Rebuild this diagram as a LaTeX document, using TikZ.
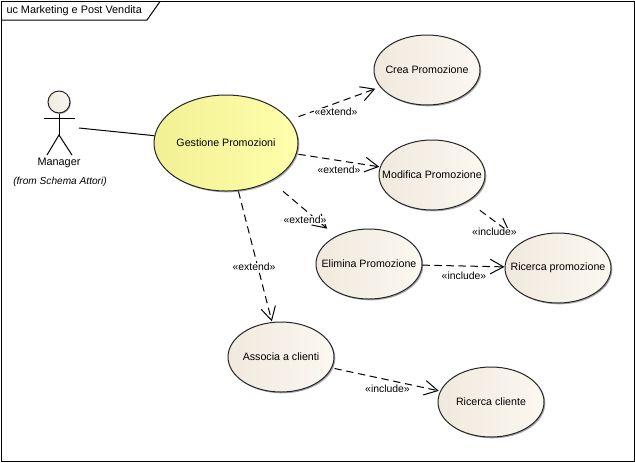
\documentclass[tikz,border=0pt]{standalone}
\usepackage{fontspec}
\setmainfont{Liberation Sans}
\usetikzlibrary{positioning,arrows.meta,shapes.geometric,shadows}
\definecolor{caseleft}{HTML}{F0E9DD}
\definecolor{caseright}{HTML}{FBF8F1}
\definecolor{mainleft}{HTML}{F2F094}
\definecolor{mainright}{HTML}{FFFFAC}
\tikzset{
  usecase/.style={ellipse, draw=black!85, line width=.75pt, inner sep=0pt, minimum width=79.5pt, minimum height=52.5pt,
    left color=caseleft, right color=caseright, font=\fontsize{8}{10}\selectfont,
    drop shadow={shadow xshift=1pt, shadow yshift=-1pt, opacity=.35, fill=black}},
  maincase/.style={usecase, minimum width=108pt, minimum height=72pt, left color=mainleft, right color=mainright},
  relation/.style={dashed, dash pattern=on 5.5pt off 3.5pt, line width=.75pt, -{Straight Barb[length=10pt,width=11pt]}},
  stereo/.style={fill=white, inner sep=.3pt, font=\fontsize{7.8}{9}\selectfont},
  plain/.style={inner sep=0pt, font=\fontsize{8.15}{10}\selectfont}
}
\begin{document}
\begin{tikzpicture}[x=.75pt, y=-.75pt, line width=.75pt]
  \useasboundingbox (0,0) rectangle (635,462);
  % frame and its tab
  \draw (1.5,1.5) rectangle (634,461.5);
  \draw (1.5,20) -- (147,20) -- (160,1.5);
  \node[plain, anchor=west] (frametitle) at (6,10.5) {uc Marketing e Post Vendita};

  % actor
  \node[circle, draw=black!85, inner sep=0pt, minimum size=16.5pt, left color=caseleft, right color=caseright,
    drop shadow={shadow xshift=.7pt, shadow yshift=-.7pt, opacity=.35, fill=black}] (head) at (59,102) {};
  \coordinate (hip) at (59,135);
  \coordinate (armleft) at (44,118);
  \coordinate (armright) at (75,118);
  \coordinate (legleft) at (47,155);
  \coordinate (legright) at (72,155);
  \coordinate (managerend) at (79,128);
  \draw (head) -- (hip);
  \draw (armleft) -- (armright);
  \draw (legleft) -- (hip) -- (legright);
  \node[plain] (manager) at (59,163) {Manager};
  \node[plain, font=\fontsize{7.6}{9}\selectfont\itshape] (from) at (60,182) {(from Schema Attori)};

  % use cases
  \node[maincase] (gestione) at (226,143) {\makebox[0pt]{Gestione Promozioni}};
  \node[usecase] (crea) at (427,70) {\makebox[0pt]{Crea Promozione}};
  \node[usecase] (modifica) at (432,175) {\makebox[0pt]{Modifica Promozione}};
  \node[usecase] (elimina) at (369,264) {\makebox[0pt]{Elimina Promozione}};
  \node[usecase] (ricercap) at (558,268) {\makebox[0pt]{Ricerca promozione}};
  \node[usecase] (associa) at (281,357) {\makebox[0pt]{Associa a clienti}};
  \node[usecase] (ricercac) at (491,402) {\makebox[0pt]{Ricerca cliente}};

  % connectors
  \draw (managerend) -- (gestione);
  \draw[relation, shorten <=7pt, shorten >=3.8pt] (gestione) -- (crea);
  \draw[relation, shorten <=1.4pt, shorten >=.5pt] (gestione) -- (modifica);
  \draw[relation, shorten <=11.9pt, shorten >=8.6pt] (gestione) -- (elimina);
  \draw[relation, shorten <=.5pt, shorten >=.5pt] (gestione) -- (associa);
  \draw[relation, shorten <=11.3pt, shorten >=11.3pt] (modifica) -- (ricercap);
  \draw[relation] (elimina) -- (ricercap);
  \draw[relation, shorten <=2pt, shorten >=1pt] (associa) -- (ricercac);

  % stereotypes
  \node[stereo] (extcrea) at (336,112) {«extend»};
  \node[stereo] (extmodifica) at (339,170) {«extend»};
  \node[stereo] (extelimina) at (305,220) {«extend»};
  \node[stereo] (extassocia) at (254,267) {«extend»};
  \node[stereo] (incmodifica) at (494.5,232) {«include»};
  \node[stereo] (incelimina) at (464,276) {«include»};
  \node[stereo] (incassocia) at (387.5,389) {«include»};
\end{tikzpicture}
\end{document}
